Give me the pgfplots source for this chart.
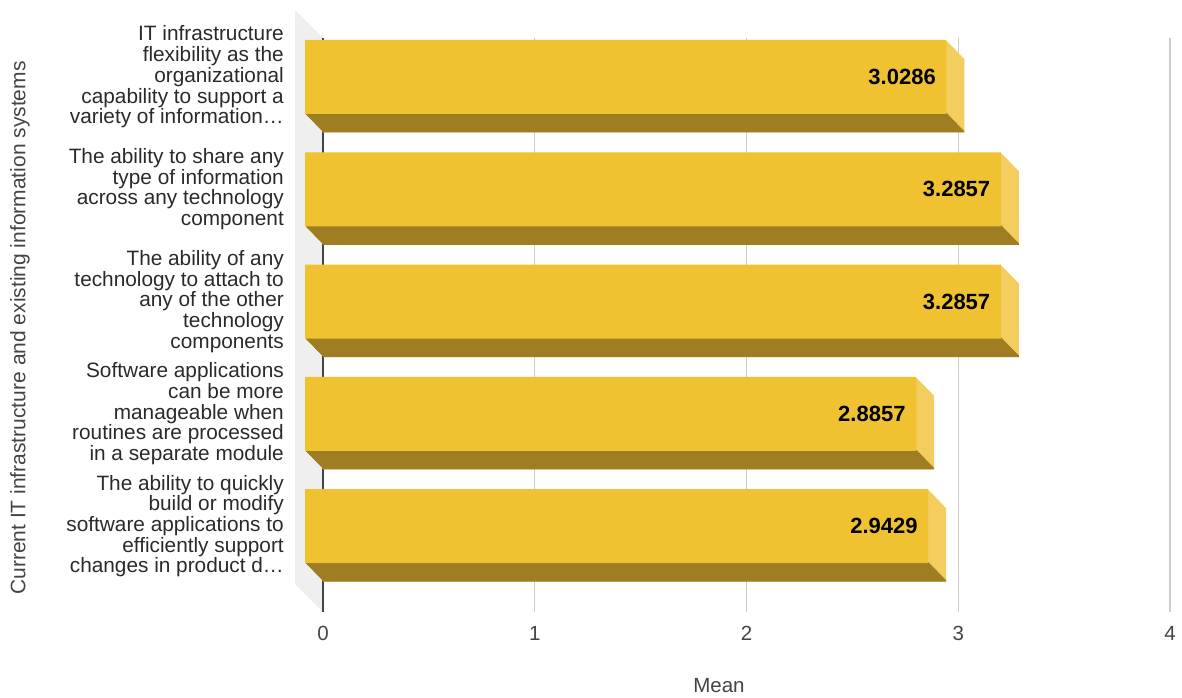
\documentclass[border=0pt]{standalone}
\usepackage{fontspec}
\setmainfont{Liberation Sans}
\usepackage{pgfplots}
\usepackage{pgfplotstable}
\pgfplotsset{compat=1.18}
\definecolor{front}{HTML}{F0C232}
\definecolor{side}{HTML}{F3CD5D}
\definecolor{bottomc}{HTML}{9E7D23}
\definecolor{wall}{HTML}{EFEFEF}
\definecolor{gridc}{HTML}{CCCCCC}
\definecolor{axisc}{HTML}{444444}
\definecolor{txt}{HTML}{2A2A2A}
\definecolor{tickc}{HTML}{444444}

\pgfplotstableread{
y v label
0 3.0286 3.0286
1 3.2857 3.2857
2 3.2857 3.2857
3 2.8857 2.8857
4 2.9429 2.9429
}\means

\begin{document}
\begin{tikzpicture}[x=1pt,y=1pt]
\useasboundingbox (0,0) rectangle (1182,-697);
\fill[wall] (295,-10) -- (323,-38) -- (323,-612) -- (295,-584) -- cycle;
\node[rotate=90, text=tickc, font=\fontsize{21}{24}\selectfont] at (20,-328) {Current IT infrastructure and existing information systems};
\node[text=tickc, font=\fontsize{20.5}{24}\selectfont] at (719,-686) {Mean};
\begin{axis}[
  at={(323pt,-612pt)}, anchor=south west,
  scale only axis, width=847pt, height=574pt,
  xmin=0, xmax=4, ymin=-0.512, ymax=4.601, y dir=reverse,
  clip=false,
  axis line style={draw=none},
  major tick length=0pt,
  xtick={1,2,3,4}, xticklabels={1,2,3,4},
  extra x ticks={0}, extra x tick labels={0},
  extra x tick style={xmajorgrids=true, grid style={draw=axisc, line width=1.3pt}},
  xmajorgrids, grid style={draw=gridc, line width=1.2pt},
  xticklabel style={font=\fontsize{20.5}{24}\selectfont, text=tickc, inner sep=0pt, anchor=center, yshift=-21pt},
  ytick={0,1,2,3,4},
  yticklabels={
    {IT infrastructure\\flexibility as the\\organizational\\capability to support a\\variety of information…},
    {The ability to share any\\type of information\\across any technology\\component},
    {The ability of any\\technology to attach to\\any of the other\\technology\\components},
    {Software applications\\can be more\\manageable when\\routines are processed\\in a separate module},
    {The ability to quickly\\build or modify\\software applications to\\efficiently support\\changes in product d…}},
  yticklabel style={align=right, anchor=east, inner sep=0pt, xshift=-39pt, yshift=18.5pt, font=\fontsize{20.8}{20.7}\selectfont, text=txt},
]
\pgfplotsinvokeforeach{0,...,17}{
  \addplot[xbar, bar shift=0pt, bar width=74pt, fill=side, draw=none, xshift=-#1pt, yshift={1.028*#1pt}] table[x=v,y=y]{\means};
}
\pgfplotsinvokeforeach{0,...,17}{
  \addplot[xbar, bar shift=0pt, bar width=1.8pt, fill=bottomc, draw=none, xshift=-#1pt, yshift={1.028*#1pt-36.1pt}] table[x=v,y=y]{\means};
}
\addplot[xbar, bar shift=0pt, bar width=74pt, fill=front, draw=none, xshift=-18pt, yshift=18.5pt,
  point meta=explicit symbolic, nodes near coords,
  every node near coord/.append style={anchor=east, xshift=-7pt, font=\fontsize{22}{22}\selectfont\bfseries, text=black}]
  table[x=v,y=y,meta=label]{\means};
\end{axis}
\end{tikzpicture}
\end{document}
